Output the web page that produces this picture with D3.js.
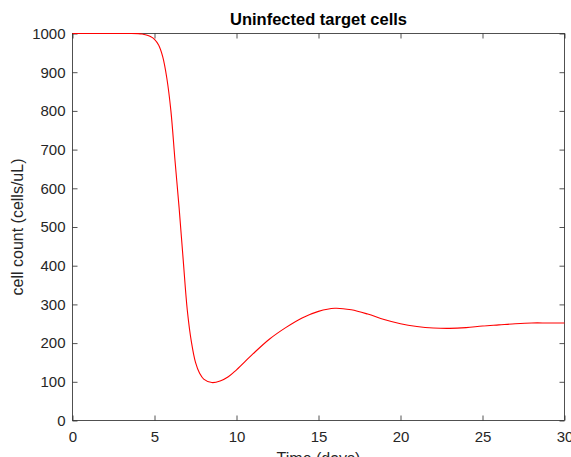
<!DOCTYPE html>
<html>
<head>
<meta charset="utf-8">
<script src="https://cdn.jsdelivr.net/npm/d3@7"></script>
<style>
  html, body { margin: 0; padding: 0; background: #fff; overflow: hidden; }
  svg { display: block; }
  text { font-family: "Liberation Sans", Arial, Helvetica, sans-serif; }
</style>
</head>
<body>
<svg id="chart" width="571" height="457"></svg>
<script>
// Simulated uninfected target cell count over time
const timeDays = [0, 1, 2, 3, 3.5, 4, 4.25, 4.5, 4.75, 5, 5.25, 5.5, 5.75, 6, 6.25, 6.5, 6.75, 7, 7.25, 7.5, 7.75, 8, 8.5, 9, 9.5, 10, 11, 12, 13, 14, 15, 16, 17, 18, 19, 20, 21, 22, 23, 24, 25, 26, 27, 28, 29, 30];
const cellCount = [1000, 1000, 1000, 1000, 1000, 999.6, 998.6, 996, 992, 985, 970, 940, 885, 800, 672, 550, 415, 285, 203, 150, 122, 107, 98, 102, 113, 131, 172, 210, 240, 265, 282, 290, 286, 275, 261, 250, 243, 239, 238, 240, 244, 247, 250, 252, 252, 252];
const xTicks = [0, 5, 10, 15, 20, 25, 30];
const yTicks = [0, 100, 200, 300, 400, 500, 600, 700, 800, 900, 1000];

const titleText = "Uninfected target cells";
const xLabel = "Time (days)";
const yLabel = "cell count (cells/uL)";

const svg = d3.select("#chart");
const axisColor = "#262626";
const plotLeft = 72.5, plotRight = 564.5, plotTop = 33.5, plotBottom = 420.5;

const x = d3.scaleLinear().domain([0, 30]).range([plotLeft, plotRight]);
const y = d3.scaleLinear().domain([0, 1000]).range([plotBottom, plotTop]);

function styleAxis(g) {
  g.select(".domain").remove();
  g.selectAll(".tick line").attr("stroke", axisColor).attr("stroke-width", 0.8);
  g.selectAll(".tick text")
    .attr("fill", axisColor)
    .style("font-size", "15px")
    .style("font-family", '"Liberation Sans", Arial, Helvetica, sans-serif');
}

// bottom and left axes with labels, inward ticks
svg.append("g")
  .attr("transform", `translate(0,${plotBottom})`)
  .call(d3.axisBottom(x).tickValues(xTicks).tickFormat(d3.format("d"))
    .tickSizeInner(-5).tickSizeOuter(0).tickPadding(11))
  .call(styleAxis);

svg.append("g")
  .attr("transform", `translate(${plotLeft},0)`)
  .call(d3.axisLeft(y).tickValues(yTicks).tickFormat(d3.format("d"))
    .tickSizeInner(-5).tickSizeOuter(0).tickPadding(7))
  .call(styleAxis);

// mirrored ticks on top and right, no labels
svg.append("g")
  .attr("transform", `translate(0,${plotTop})`)
  .call(d3.axisTop(x).tickValues(xTicks).tickFormat("")
    .tickSizeInner(-5).tickSizeOuter(0))
  .call(styleAxis);

svg.append("g")
  .attr("transform", `translate(${plotRight},0)`)
  .call(d3.axisRight(y).tickValues(yTicks).tickFormat("")
    .tickSizeInner(-5).tickSizeOuter(0))
  .call(styleAxis);

// axes box
svg.append("rect")
  .attr("x", plotLeft).attr("y", plotTop)
  .attr("width", plotRight - plotLeft).attr("height", plotBottom - plotTop)
  .attr("fill", "none")
  .attr("stroke", axisColor)
  .attr("stroke-width", 0.8);

// data line
const line = d3.line()
  .x((d, i) => x(timeDays[i]))
  .y(d => y(d))
  .curve(d3.curveCatmullRom.alpha(0.5));

svg.append("path")
  .datum(cellCount)
  .attr("d", line)
  .attr("fill", "none")
  .attr("stroke", "#ff0000")
  .attr("stroke-width", 1.1);

// title and axis labels
svg.append("text")
  .attr("x", (plotLeft + plotRight) / 2)
  .attr("y", 25)
  .attr("text-anchor", "middle")
  .attr("fill", "#000")
  .style("font-size", "16.5px")
  .style("font-weight", "bold")
  .text(titleText);

svg.append("text")
  .attr("x", (plotLeft + plotRight) / 2)
  .attr("y", 464)
  .attr("text-anchor", "middle")
  .attr("fill", axisColor)
  .style("font-size", "16px")
  .text(xLabel);

svg.append("text")
  .attr("transform", `translate(23,${(plotTop + plotBottom) / 2}) rotate(-90)`)
  .attr("text-anchor", "middle")
  .attr("fill", axisColor)
  .style("font-size", "16px")
  .text(yLabel);
</script>
</body>
</html>
